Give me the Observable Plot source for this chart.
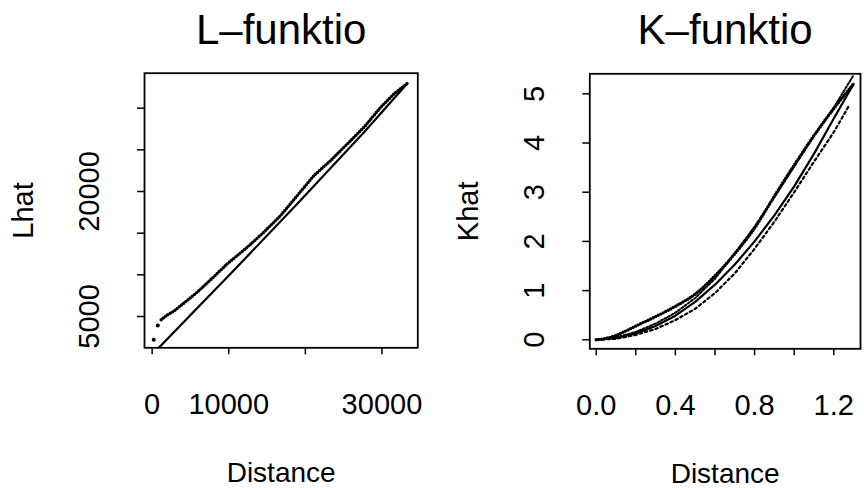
<!DOCTYPE html>
<html><head><meta charset="utf-8">
<script src="https://cdn.jsdelivr.net/npm/d3@7"></script>
<script src="https://cdn.jsdelivr.net/npm/@observablehq/plot@0.6"></script>
<style>
body{margin:0;background:#fff;}
#wrap{position:relative;width:864px;height:488px;overflow:hidden;background:#fff;}
#left,#right{position:absolute;top:0;}
#left{left:0;} #right{left:432px;}
</style></head>
<body><div id="wrap"><div id="left"></div><div id="right"></div></div>
<script>
// ---- L-function panel data ----
const lTitle = "L–funktio";
const lYLabel = "Lhat";
const xLabel = "Distance";
const lDistObs = [209, 732, 1176, 1869, 2824, 4131, 5882, 7621, 9804, 12418, 14588, 16771, 18954, 21124, 23307, 25490, 27660, 29843, 31582, 33333];
const lHatObs  = [2206, 3921, 4604, 5120, 5636, 6596, 7917, 9400, 11320, 13320, 15120, 17120, 19520, 21920, 23720, 25720, 27720, 30120, 31720, 32990];
const lDistTheo = [863, 10235, 18954, 27660, 33333];
const lHatTheo  = [1243, 10120, 18520, 27110, 32990];
const lXTicks = [0, 10000, 20000, 30000];
const lXTickLabels = ["0", "10000", "", "30000"];
const lYTicks = [5000, 10000, 15000, 20000, 25000, 30000];
const lYTickLabels = ["5000", "", "", "20000", "", ""];

// ---- K-function panel data ----
const kTitle = "K–funktio";
const kYLabel = "Khat";
const kDistObs = [0, 0.05, 0.1, 0.15, 0.2, 0.3, 0.4, 0.5, 0.6, 0.7, 0.8, 0.9, 1.0, 1.1, 1.2, 1.3];
const kHatObs  = [0, 0.03, 0.09, 0.18, 0.28, 0.47, 0.68, 0.93, 1.30, 1.75, 2.27, 2.92, 3.55, 4.15, 4.70, 5.20];
const kDist = [0, 0.1, 0.2, 0.3, 0.4, 0.5, 0.6, 0.7, 0.8, 0.9, 1.0, 1.1, 1.2, 1.3];
const kTheo  = [0, 0.04, 0.13, 0.28, 0.49, 0.77, 1.12, 1.53, 2.00, 2.53, 3.12, 3.78, 4.50, 5.20];
const kUpper = [0, 0.05, 0.16, 0.33, 0.55, 0.85, 1.24, 1.76, 2.30, 2.90, 3.52, 4.15, 4.72, 5.38];
const kLowerDist = [0, 0.1, 0.2, 0.3, 0.4, 0.5, 0.6, 0.7, 0.8, 0.9, 1.0, 1.1, 1.2, 1.28];
const kLower = [0, 0.02, 0.10, 0.22, 0.40, 0.63, 0.95, 1.35, 1.85, 2.40, 3.00, 3.62, 4.22, 4.78];
const kXTicks = [0, 0.2, 0.4, 0.6, 0.8, 1.0, 1.2];
const kXTickLabels = ["0.0", "", "0.4", "", "0.8", "", "1.2"];
const kYTicks = [0, 1, 2, 3, 4, 5];
const kYTickLabels = ["0", "1", "2", "3", "4", "5"];

const FONT = "'Liberation Sans', Arial, Helvetica, sans-serif";
const zip = (xs, ys) => xs.map((x, i) => ({x, y: ys[i]}));
const T = {fill: "#000", textAnchor: "middle", lineAnchor: "middle"};

function panel({width, marginLeft, marginRight, marginTop, marginBottom, xDomain, yDomain,
                xTicks, xTickLabels, yTicks, yTickLabels, title, yLabel, marks}) {
  return Plot.plot({
    width, height: 488, marginLeft, marginRight, marginTop, marginBottom,
    style: {fontFamily: FONT, background: "#fff", color: "#000", overflow: "visible"},
    x: {domain: xDomain, nice: false},
    y: {domain: yDomain, nice: false},
    marks: [
      ...marks,
      Plot.frame({stroke: "#000", strokeWidth: 1.8}),
      Plot.axisX({ticks: xTicks, tickSize: 7, strokeWidth: 1.5, tickFormat: () => "", label: null}),
      Plot.axisY({ticks: yTicks, tickSize: 7, strokeWidth: 1.5, tickFormat: () => "", label: null}),
      Plot.text(xTicks, {...T, x: d => d, text: (d, i) => xTickLabels[i], frameAnchor: "bottom", dy: 57, fontSize: 29}),
      Plot.text(yTicks, {...T, y: d => d, text: (d, i) => yTickLabels[i], frameAnchor: "left", dx: -55, rotate: -90, fontSize: 29}),
      Plot.text([yLabel], {...T, text: d => d, frameAnchor: "left", dx: -121, rotate: -90, fontSize: 29}),
      Plot.text([xLabel], {...T, text: d => d, frameAnchor: "bottom", dy: 125, fontSize: 28}),
      Plot.text([title], {...T, text: d => d, frameAnchor: "top", dy: -43, fontSize: 42})
    ]
  });
}

const lObs = zip(lDistObs, lHatObs);
const left = panel({
  width: 432, marginLeft: 144, marginRight: 14.7, marginTop: 72.7, marginBottom: 140.7,
  xDomain: [-1000, 34680], yDomain: [1243, 34200],
  xTicks: lXTicks, xTickLabels: lXTickLabels, yTicks: lYTicks, yTickLabels: lYTickLabels,
  title: lTitle, yLabel: lYLabel,
  marks: [
    Plot.line(zip(lDistTheo, lHatTheo), {x: "x", y: "y", stroke: "#000", strokeWidth: 2.2, clip: true}),
    Plot.line(lObs.slice(2), {x: "x", y: "y", stroke: "#000", strokeWidth: 3.4, strokeDasharray: "0,2.8", strokeLinecap: "round", clip: true}),
    Plot.dot(lObs.slice(0, 2), {x: "x", y: "y", r: 2, fill: "#000", stroke: "none", clip: true})
  ]
});
document.getElementById("left").appendChild(left);

const right = panel({
  width: 432, marginLeft: 157.3, marginRight: 4, marginTop: 73.3, marginBottom: 139.7,
  xDomain: [-0.0323, 1.335], yDomain: [-0.183, 5.407],
  xTicks: kXTicks, xTickLabels: kXTickLabels, yTicks: kYTicks, yTickLabels: kYTickLabels,
  title: kTitle, yLabel: kYLabel,
  marks: [
    Plot.line(zip(kLowerDist, kLower), {x: "x", y: "y", stroke: "#000", strokeWidth: 2.2, strokeDasharray: "2.5,3", clip: true}),
    Plot.line(zip(kDist, kUpper), {x: "x", y: "y", stroke: "#000", strokeWidth: 2, strokeDasharray: "2,2", clip: true}),
    Plot.line(zip(kDist, kTheo), {x: "x", y: "y", stroke: "#000", strokeWidth: 2.2, clip: true}),
    Plot.line(zip(kDistObs, kHatObs), {x: "x", y: "y", stroke: "#000", strokeWidth: 3.4, strokeDasharray: "0,2.8", strokeLinecap: "round", curve: "monotone-x", clip: true})
  ]
});
document.getElementById("right").appendChild(right);
</script>
</body></html>
